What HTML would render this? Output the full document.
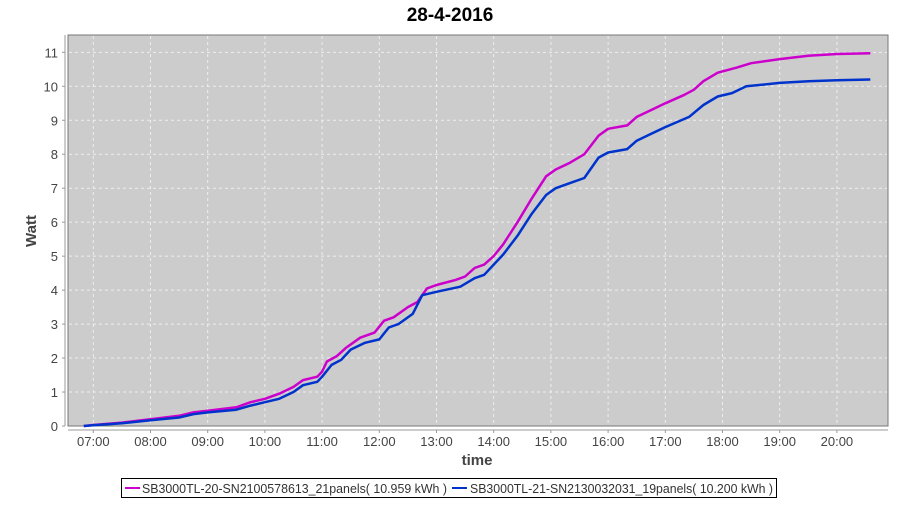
<!DOCTYPE html>
<html><head><meta charset="utf-8"><style>
body{margin:0;background:#fff;font-family:"Liberation Sans",sans-serif}
</style></head><body>
<svg id="s" width="900" height="500" xmlns="http://www.w3.org/2000/svg" font-family="Liberation Sans, sans-serif">
<text x="450" y="21" text-anchor="middle" font-size="19" font-weight="bold" fill="#000">28-4-2016</text>
<rect x="68" y="35" width="820" height="391" fill="#cccccc" stroke="#777" stroke-width="1"/>
<g id="grid" stroke="#eeeeee" stroke-dasharray="3,3" stroke-width="1"></g>
<line x1="65" y1="35" x2="65" y2="426" stroke="#999"/>
<line x1="68" y1="430" x2="888" y2="430" stroke="#999"/>
<g id="lab" font-size="13" fill="#444"></g>
<text x="477" y="465" text-anchor="middle" font-size="15" font-weight="bold" fill="#444">time</text>
<text transform="translate(36,231) rotate(-90)" text-anchor="middle" font-size="15" font-weight="bold" fill="#444">Watt</text>
<g id="ser"></g>
<rect x="121.5" y="478.5" width="655" height="19" fill="#fff" stroke="#000"/>
<line x1="125" y1="488" x2="140" y2="488" stroke="#cc00cc" stroke-width="2"/>
<text x="142" y="493" font-size="13" fill="#333" textLength="305" lengthAdjust="spacingAndGlyphs">SB3000TL-20-SN2100578613_21panels( 10.959 kWh )</text>
<line x1="452" y1="488" x2="467" y2="488" stroke="#0033cc" stroke-width="2"/>
<text x="470" y="493" font-size="13" fill="#333" textLength="303" lengthAdjust="spacingAndGlyphs">SB3000TL-21-SN2130032031_19panels( 10.200 kWh )</text>
</svg>
<script>
var NS="http://www.w3.org/2000/svg";
function X(h){return 93.3+(h-7)*57.2}
function Y(v){return 426-v*33.97}
var g=document.getElementById('grid'),lab=document.getElementById('lab');
function el(p,t,a,txt){var e=document.createElementNS(NS,t);for(var k in a)e.setAttribute(k,a[k]);if(txt!==undefined)e.textContent=txt;p.appendChild(e);return e}
for(var h=7;h<=20;h++){el(g,'line',{x1:X(h),x2:X(h),y1:36,y2:425});
el(lab,'text',{x:X(h),y:446,'text-anchor':'middle'},(h<10?'0':'')+h+':00');
el(lab,'line',{x1:X(h),x2:X(h),y1:430,y2:433,stroke:'#999'});}
for(var v=0;v<=11;v++){if(v>0)el(g,'line',{x1:69,x2:887,y1:Y(v),y2:Y(v)});
el(lab,'text',{x:58,y:Y(v)+5,'text-anchor':'end'},String(v));
el(lab,'line',{x1:62,x2:65,y1:Y(v),y2:Y(v),stroke:'#999'});}
function hm(s){var p=s.split(':');return +p[0]+p[1]/60}
var mag=[["6:50",0],["7:00",.03],["7:30",.1],["8:00",.2],["8:30",.3],["8:45",.4],["9:00",.45],["9:30",.55],["9:45",.7],["10:00",.8],["10:15",.95],["10:30",1.15],["10:40",1.35],["10:55",1.45],["11:00",1.6],["11:05",1.9],["11:15",2.05],["11:25",2.3],["11:40",2.6],["11:55",2.75],["12:05",3.1],["12:15",3.2],["12:30",3.5],["12:40",3.65],["12:50",4.05],["13:00",4.15],["13:20",4.3],["13:30",4.4],["13:40",4.65],["13:50",4.75],["14:00",5.0],["14:10",5.35],["14:25",6.0],["14:40",6.7],["14:55",7.35],["15:05",7.55],["15:20",7.75],["15:35",8.0],["15:50",8.55],["16:00",8.75],["16:20",8.85],["16:30",9.1],["16:45",9.3],["17:00",9.5],["17:20",9.75],["17:30",9.9],["17:40",10.15],["17:55",10.4],["18:15",10.55],["18:30",10.68],["19:00",10.8],["19:30",10.9],["20:00",10.95],["20:35",10.97]];
var blu=[["6:50",0],["7:00",.02],["7:30",.08],["8:00",.17],["8:30",.25],["8:45",.35],["9:00",.4],["9:30",.48],["9:45",.6],["10:00",.7],["10:15",.8],["10:30",1.0],["10:40",1.2],["10:55",1.3],["11:00",1.45],["11:10",1.8],["11:20",1.95],["11:30",2.25],["11:45",2.45],["12:00",2.55],["12:10",2.9],["12:20",3.0],["12:35",3.3],["12:45",3.85],["13:00",3.95],["13:25",4.1],["13:40",4.35],["13:50",4.45],["14:10",5.05],["14:25",5.6],["14:40",6.25],["14:55",6.8],["15:05",7.0],["15:20",7.15],["15:35",7.3],["15:50",7.9],["16:00",8.05],["16:20",8.15],["16:30",8.4],["16:45",8.6],["17:00",8.8],["17:25",9.1],["17:40",9.45],["17:55",9.7],["18:10",9.8],["18:25",10.0],["19:00",10.1],["19:30",10.15],["20:00",10.18],["20:35",10.2]];
var ser=document.getElementById('ser');
[[mag,'#cc00cc'],[blu,'#0033cc']].forEach(function(s){
el(ser,'polyline',{points:s[0].map(function(p){return X(hm(p[0])).toFixed(1)+','+Y(p[1]).toFixed(1)}).join(' '),fill:'none',stroke:s[1],'stroke-width':2.5,'stroke-linejoin':'round'});});
</script>
</body></html>
